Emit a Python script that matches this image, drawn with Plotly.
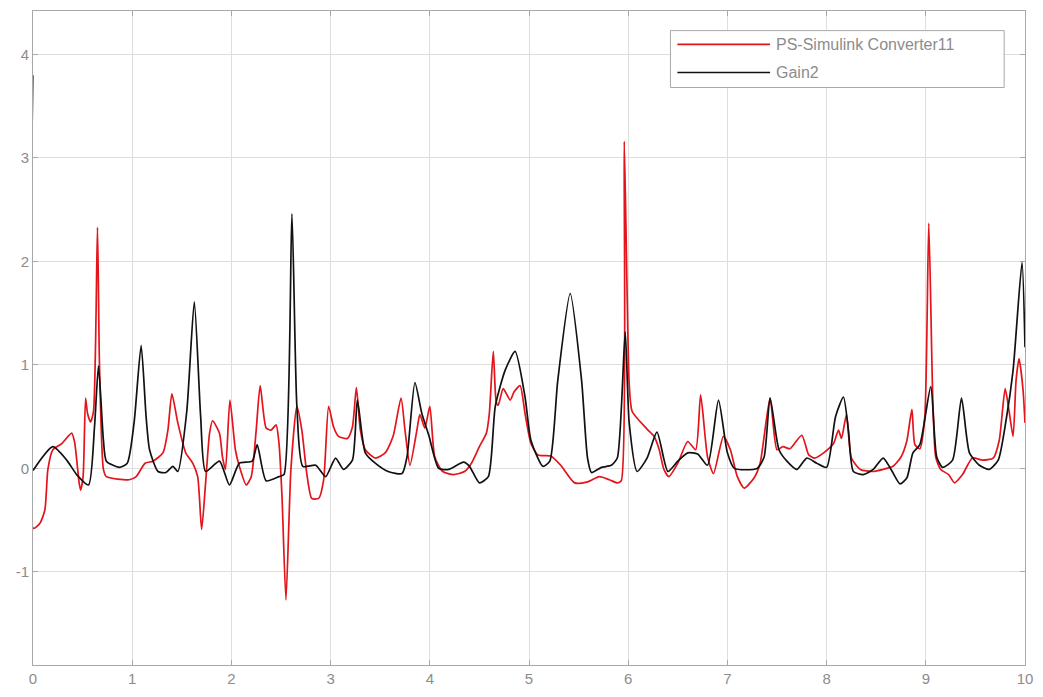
import plotly.graph_objects as go

# Simulation output: PS-Simulink Converter11 (red) and Gain2 (black)
t_red = [0.0, 0.004, 0.07, 0.12, 0.15, 0.20, 0.29, 0.39, 0.42, 0.465, 0.48, 0.505, 0.53, 0.55, 0.58, 0.61,
         0.65, 0.67, 0.71, 0.74, 0.97, 1.04, 1.13, 1.21, 1.31, 1.36, 1.40, 1.46, 1.54, 1.61, 1.66, 1.70,
         1.74, 1.78, 1.81, 1.88, 1.91, 1.94, 1.985, 2.04, 2.08, 2.15, 2.20, 2.25, 2.29, 2.35, 2.40, 2.45,
         2.48, 2.51, 2.55, 2.60, 2.66, 2.71, 2.76, 2.81, 2.88, 2.93, 2.98, 3.03, 3.08, 3.17, 3.22, 3.26,
         3.30, 3.35, 3.45, 3.55, 3.63, 3.71, 3.75, 3.80, 3.87, 3.90, 3.95, 4.00, 4.05, 4.13, 4.24, 4.35,
         4.42, 4.50, 4.57, 4.60, 4.64, 4.67, 4.69, 4.74, 4.81, 4.85, 4.91, 4.96, 5.02, 5.09, 5.22, 5.32,
         5.46, 5.59, 5.71, 5.81, 5.89, 5.93, 5.96, 6.01, 6.04, 6.19, 6.26, 6.31, 6.36, 6.41, 6.50, 6.60,
         6.68, 6.73, 6.80, 6.86, 6.96, 7.03, 7.10, 7.17, 7.27, 7.33, 7.43, 7.50, 7.56, 7.63, 7.75, 7.82,
         7.88, 7.97, 8.07, 8.12, 8.15, 8.20, 8.25, 8.34, 8.47, 8.57, 8.67, 8.75, 8.81, 8.86, 8.89, 8.94,
         8.99, 9.03, 9.07, 9.10, 9.15, 9.23, 9.29, 9.37, 9.47, 9.57, 9.68, 9.74, 9.80, 9.84, 9.88, 9.91,
         9.94, 9.98, 10.0]
v_red = [3.80, -0.58, -0.53, -0.40, -0.01, 0.18, 0.24, 0.34, 0.25, -0.14, -0.21, -0.08, 0.68, 0.53, 0.45, 0.55,
         2.33, 1.01, -0.01, -0.08, -0.11, -0.08, 0.05, 0.07, 0.15, 0.37, 0.72, 0.44, 0.15, 0.05, -0.08, -0.59,
         -0.14, 0.34, 0.46, 0.34, 0.11, -0.01, 0.66, 0.18, 0.02, -0.16, -0.08, 0.37, 0.80, 0.39, 0.37, 0.42,
         0.24, -0.27, -1.27, -0.01, 0.60, 0.37, -0.05, -0.29, -0.29, -0.11, 0.60, 0.40, 0.31, 0.29, 0.40, 0.78,
         0.37, 0.18, 0.10, 0.15, 0.31, 0.68, 0.37, 0.03, 0.37, 0.52, 0.39, 0.60, 0.11, -0.03, -0.06, -0.03,
         0.05, 0.21, 0.34, 0.53, 1.13, 0.64, 0.61, 0.77, 0.66, 0.74, 0.80, 0.53, 0.24, 0.13, 0.12, 0.03,
         -0.14, -0.13, -0.08, -0.11, -0.14, -0.12, 3.16, 0.82, 0.55, 0.38, 0.31, 0.19, -0.01, -0.08, 0.05, 0.26,
         0.18, 0.71, 0.11, -0.05, 0.31, 0.18, -0.08, -0.19, -0.09, 0.05, 0.68, 0.18, 0.21, 0.19, 0.32, 0.13,
         0.10, 0.15, 0.24, 0.37, 0.29, 0.52, 0.10, -0.01, -0.03, -0.01, 0.02, 0.11, 0.27, 0.57, 0.23, 0.19,
         0.50, 2.37, 0.69, 0.11, -0.01, -0.06, -0.14, -0.06, 0.10, 0.08, 0.10, 0.27, 0.77, 0.55, 0.31, 0.85,
         1.06, 0.76, 0.44]

t_black = [0.0, 0.20, 0.34, 0.44, 0.56, 0.62, 0.66, 0.71, 0.74, 0.87, 0.95, 1.02, 1.09, 1.14, 1.175, 1.26,
           1.34, 1.41, 1.46, 1.55, 1.626, 1.69, 1.74, 1.88, 1.98, 2.08, 2.21, 2.26, 2.35, 2.48, 2.53, 2.61,
           2.66, 2.72, 2.85, 2.95, 3.05, 3.13, 3.22, 3.27, 3.35, 3.45, 3.58, 3.72, 3.77, 3.85, 3.92, 3.99,
           4.09, 4.19, 4.34, 4.40, 4.50, 4.59, 4.66, 4.76, 4.86, 4.96, 5.02, 5.14, 5.21, 5.29, 5.415, 5.53,
           5.59, 5.63, 5.73, 5.83, 5.89, 5.97, 6.01, 6.09, 6.19, 6.29, 6.40, 6.50, 6.60, 6.70, 6.80, 6.91,
           7.00, 7.07, 7.30, 7.37, 7.43, 7.52, 7.60, 7.70, 7.80, 7.90, 8.00, 8.09, 8.17, 8.22, 8.27, 8.37,
           8.47, 8.57, 8.65, 8.74, 8.81, 8.87, 8.94, 9.05, 9.11, 9.17, 9.27, 9.36, 9.44, 9.54, 9.64, 9.73,
           9.81, 9.88, 9.97, 10.0]
v_black = [-0.02, 0.21, 0.08, -0.06, -0.16, 0.40, 0.99, 0.27, 0.07, 0.01, 0.05, 0.45, 1.19, 0.50, 0.18, -0.03,
           -0.04, 0.02, -0.03, 0.55, 1.61, 0.50, -0.03, 0.07, -0.16, 0.05, 0.07, 0.23, -0.12, -0.08, -0.06, 2.46,
           0.60, 0.02, 0.03, -0.08, 0.10, -0.01, 0.08, 0.66, 0.15, 0.05, -0.03, -0.05, 0.11, 0.83, 0.53, 0.32,
           0.00, -0.01, 0.06, 0.02, -0.14, -0.08, 0.60, 0.95, 1.13, 0.69, 0.27, 0.02, 0.07, 0.85, 1.69, 0.85,
           0.10, -0.04, 0.01, 0.03, 0.10, 1.32, 0.44, -0.03, 0.10, 0.35, -0.03, 0.07, 0.15, 0.14, 0.03, 0.66,
           0.15, 0.00, 0.00, 0.11, 0.68, 0.18, 0.07, -0.01, 0.10, 0.05, 0.01, 0.50, 0.69, 0.37, -0.03, -0.06,
           -0.01, 0.10, -0.01, -0.15, -0.09, 0.15, 0.23, 0.79, 0.11, 0.01, 0.08, 0.68, 0.15, 0.03, -0.01, 0.08,
           0.47, 0.95, 1.99, 1.17]

x_ticks = list(range(0, 11))
y_ticks = [-1, 0, 1, 2, 3, 4]

series_names = ["PS-Simulink Converter11", "Gain2"]
series_colors = ["#e3141b", "#111111"]

fig = go.Figure()
fig.add_trace(go.Scatter(x=t_red, y=v_red, mode="lines", name=series_names[0],
                         line=dict(color=series_colors[0], width=1.7, shape="spline", smoothing=0.6),
                         showlegend=False))
fig.add_trace(go.Scatter(x=t_black, y=v_black, mode="lines", name=series_names[1],
                         line=dict(color=series_colors[1], width=1.7, shape="spline", smoothing=0.6),
                         showlegend=False))

axis_common = dict(showgrid=True, gridcolor="#dedede", gridwidth=1, zeroline=False,
                   showline=True, linecolor="#a8a8a8", linewidth=1, mirror="ticks",
                   ticks="inside", ticklen=5, tickcolor="#a8a8a8", layer="below traces",
                   tickfont=dict(family="Liberation Sans, Arial, sans-serif", size=15, color="#8c8c8c"))

fig.update_xaxes(range=[0, 10], tickvals=x_ticks, ticktext=[str(v) for v in x_ticks], **axis_common)
fig.update_yaxes(range=[-1.9, 4.42], tickvals=y_ticks, ticktext=[str(v) for v in y_ticks], **axis_common)

# Legend box drawn in paper space, with long MATLAB-style line samples
lx0, lx1, ly0, ly1 = 0.6426, 0.979, 0.883, 0.970
fig.add_shape(type="rect", xref="paper", yref="paper", x0=lx0, x1=lx1, y0=ly0, y1=ly1,
              line=dict(color="#a8a8a8", width=1), fillcolor="white", layer="above")
row_y = [0.949, 0.906]
for name, color, ry in zip(series_names, series_colors, row_y):
    fig.add_shape(type="line", xref="paper", yref="paper", x0=0.6496, x1=0.7430, y0=ry, y1=ry,
                  line=dict(color=color, width=1.7), layer="above")
    fig.add_annotation(xref="paper", yref="paper", x=0.7470, y=ry, text=name, showarrow=False,
                       xanchor="left", yanchor="middle",
                       font=dict(family="Liberation Sans, Arial, sans-serif", size=16, color="#8c8c8c"))

fig.update_layout(width=1043, height=697, margin=dict(l=33, r=14, t=10, b=31),
                  plot_bgcolor="white", paper_bgcolor="white")

fig.write_html("out.html")
